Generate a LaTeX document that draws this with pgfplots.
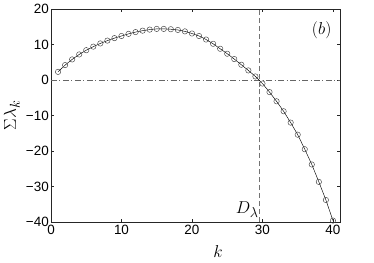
\documentclass[border=0pt]{standalone}
\usepackage{fontspec}
\setmainfont{Liberation Sans}
\usepackage{pgfplots}
\pgfplotsset{compat=1.18}
\begin{document}
\begin{tikzpicture}
\begin{axis}[
  scale only axis,
  width=289bp, height=213bp,
  xmin=0, xmax=41, ymin=-40, ymax=20,
  xtick={0,10,20,30,40},
  xticklabels={0,10,20,30,40},
  ytick={-40,-30,-20,-10,0,10,20},
  yticklabels={−40,−30,−20,−10,0,10,20},
  tick align=inside,
  major tick length=3bp,
  axis line style={black!85, line width=0.6pt},
  tick style={black!85, line width=0.5pt},
  tick label style={font=\fontsize{13.5}{15}\selectfont},
  yticklabel style={inner sep=2pt},
  xticklabel style={inner sep=3pt},
  xlabel={$k$},
  ylabel={$\Sigma\lambda_k$},
  every axis x label/.style={at={(axis description cs:0.578,-0.14)}, anchor=center, font=\fontsize{19}{22}\selectfont},
  every axis y label/.style={at={(axis description cs:-0.135,0.5)}, rotate=90, anchor=center, font=\fontsize{19}{22}\selectfont},
  clip=false,
]
\addplot[black!60, line width=0.5pt, dash pattern=on 6pt off 2.5pt on 1pt off 2.5pt] coordinates {(0,0) (41,0)};
\addplot[black!55, line width=0.5pt, dash pattern=on 5pt off 3pt] coordinates {(29.6,-40) (29.6,20)};
\addplot[black, line width=0.45pt, mark=o, mark size=2.7bp, mark options={black!75, line width=0.45pt}] coordinates {
(1,2.3) (2,4.2) (3,5.8) (4,7.2) (5,8.4) (6,9.4) (7,10.3) (8,11.1) (9,11.8) (10,12.4)
(11,13.0) (12,13.5) (13,13.9) (14,14.2) (15,14.4) (16,14.4) (17,14.3) (18,14.1) (19,13.7) (20,13.1)
(21,12.4) (22,11.4) (23,10.2) (24,8.8) (25,7.4) (26,5.9) (27,4.3) (28,2.7) (29,1.0) (30,-1.0)
(31,-3.4) (32,-6.0) (33,-8.8) (34,-12.0) (35,-15.4) (36,-19.5) (37,-23.8) (38,-28.7) (39,-33.8) (40,-39.6)
};
\node[font=\fontsize{19}{22}\selectfont] at (axis cs:38.4,14.1) {$(b)$};
\node[font=\fontsize{19}{22}\selectfont, anchor=south east, inner sep=1pt] at (axis cs:29.6,-39.2) {$D_\lambda$};
\end{axis}
\pgfresetboundingbox
\path ([shift={(-51bp,-41bp)}]current axis.south west) rectangle ([shift={(34bp,9bp)}]current axis.north east);
\end{tikzpicture}
\end{document}
